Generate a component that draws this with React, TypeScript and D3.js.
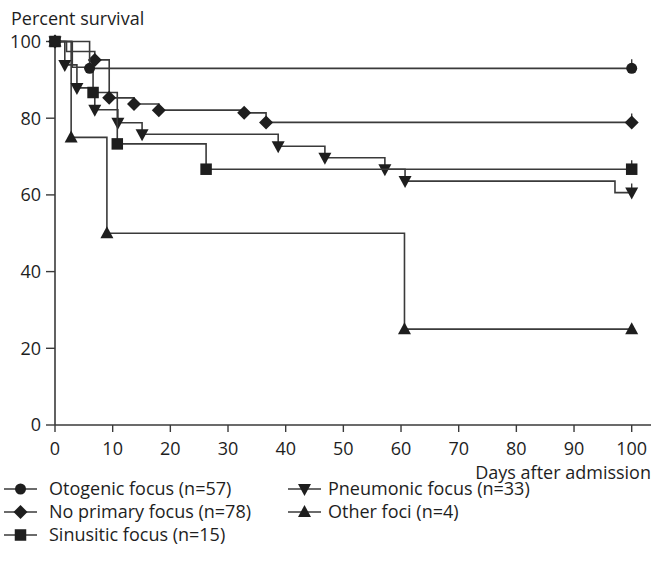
import React from "react";
import * as d3 from "d3";

// ---- data ----
const xTicks = [0, 10, 20, 30, 40, 50, 60, 70, 80, 90, 100];
const yTicks = [0, 20, 40, 60, 80, 100];

const otoTime = [0, 6, 100];
const otoSurv = [100, 93, 93];
const otoMark = [1, 1, 1];

const noneTime = [0, 2, 6.9, 9.4, 13.7, 18, 32.8, 36.6, 100];
const noneSurv = [100, 97.4, 95.2, 85.3, 83.7, 82.1, 81.4, 78.9, 78.9];
const noneMark = [1, 0, 1, 1, 1, 1, 1, 1, 1];

const sinTime = [0, 3, 6.6, 10.8, 26.2, 100];
const sinSurv = [100, 93.3, 86.7, 73.3, 66.7, 66.7];
const sinMark = [1, 0, 1, 1, 1, 1];

const pneTime = [0, 1.7, 3.8, 6.9, 10.9, 15.1, 38.7, 46.8, 57.2, 60.7, 97.1, 100];
const pneSurv = [100, 93.9, 87.9, 82.2, 78.8, 75.8, 72.7, 69.7, 66.7, 63.6, 60.6, 60.6];
const pneMark = [1, 1, 1, 1, 1, 1, 1, 1, 1, 1, 0, 1];

const othTime = [0, 2.8, 9, 60.6, 100];
const othSurv = [100, 75, 50, 25, 25];
const othMark = [1, 1, 1, 1, 1];

const seriesNames = [
  "Otogenic focus (n=57)",
  "No primary focus (n=78)",
  "Sinusitic focus (n=15)",
  "Pneumonic focus (n=33)",
  "Other foci (n=4)",
];
const seriesShapes = ["circle", "diamond", "square", "down", "up"];

const W = 653;
const H = 562;
const FONT = "'Open Sans', sans-serif";
const FS = 18;
const INK = "#1e1e1e";
const LINE = "#3a3a3a";

function Marker({ shape, x, y }: { shape: string; x: number; y: number }) {
  if (shape === "circle") return <circle cx={x} cy={y} r={5.5} fill={INK} />;
  if (shape === "square") return <rect x={x - 5.75} y={y - 5.75} width={11.5} height={11.5} fill={INK} />;
  if (shape === "diamond")
    return <polygon points={`${x},${y - 7} ${x + 7},${y} ${x},${y + 7} ${x - 7},${y}`} fill={INK} />;
  if (shape === "down")
    return <polygon points={`${x - 6.5},${y - 5} ${x + 6.5},${y - 5} ${x},${y + 7}`} fill={INK} />;
  return <polygon points={`${x - 6.5},${y + 5} ${x + 6.5},${y + 5} ${x},${y - 7}`} fill={INK} />;
}

export default function App() {
  const x = d3.scaleLinear().domain([0, 100]).range([55, 631.7]);
  const y = d3.scaleLinear().domain([0, 100]).range([425, 41.5]);

  const series = [
    { t: otoTime, s: otoSurv, m: otoMark },
    { t: noneTime, s: noneSurv, m: noneMark },
    { t: sinTime, s: sinSurv, m: sinMark },
    { t: pneTime, s: pneSurv, m: pneMark },
    { t: othTime, s: othSurv, m: othMark },
  ];

  const line = d3
    .line<[number, number]>()
    .x((d) => x(d[0]))
    .y((d) => y(d[1]))
    .curve(d3.curveStepAfter);

  const drawOrder = [4, 3, 2, 1, 0];

  const legendPos = [
    { lx: 4, ly: 489, tx: 49 },
    { lx: 4, ly: 512, tx: 49 },
    { lx: 4, ly: 535, tx: 49 },
    { lx: 288, ly: 489, tx: 328 },
    { lx: 288, ly: 512, tx: 328 },
  ];

  return (
    <svg
      width={W}
      height={H}
      style={{ position: "absolute", left: 0, top: 0, background: "#fff" }}
      fontFamily={FONT}
    >
      <text x={11} y={25} fontSize={FS} fill={INK}>
        Percent survival
      </text>

      {/* axes */}
      <line x1={55} x2={55} y1={41.5} y2={425} stroke={LINE} strokeWidth={1.6} />
      <line x1={55} x2={651} y1={425} y2={425} stroke={LINE} strokeWidth={1.6} />
      {yTicks.map((v) => (
        <g key={"y" + v}>
          <line x1={46} x2={55} y1={y(v)} y2={y(v)} stroke={LINE} strokeWidth={1.4} />
          <text x={41} y={y(v)} dy="0.35em" textAnchor="end" fontSize={FS} fill={INK}>
            {v}
          </text>
        </g>
      ))}
      {xTicks.map((v) => (
        <g key={"x" + v}>
          <line x1={x(v)} x2={x(v)} y1={425} y2={432} stroke={LINE} strokeWidth={1.4} />
          <text x={x(v)} y={448.5} dy="0.35em" textAnchor="middle" fontSize={FS} fill={INK}>
            {v}
          </text>
        </g>
      ))}
      <text x={651} y={479} textAnchor="end" fontSize={FS} fill={INK}>
        Days after admission
      </text>

      {/* curves */}
      {drawOrder.map((i) => {
        const sr = series[i];
        const pts: [number, number][] = sr.t.map((t, k) => [t, sr.s[k]]);
        const last = pts[pts.length - 1];
        return (
          <g key={"s" + i}>
            <path d={line(pts) || ""} fill="none" stroke={LINE} strokeWidth={1.6} />
            {i !== 4 && (
              <line
                x1={x(last[0])}
                x2={x(last[0])}
                y1={y(last[1])}
                y2={y(last[1]) - 9}
                stroke={LINE}
                strokeWidth={1.4}
              />
            )}
            {pts.map((p, k) =>
              sr.m[k] ? <Marker key={k} shape={seriesShapes[i]} x={x(p[0])} y={y(p[1])} /> : null
            )}
          </g>
        );
      })}

      {/* legend */}
      {seriesNames.map((name, i) => {
        const { lx, ly, tx } = legendPos[i];
        return (
          <g key={"l" + i}>
            <line x1={lx} x2={lx + 33} y1={ly} y2={ly} stroke={LINE} strokeWidth={1.6} />
            <Marker shape={seriesShapes[i]} x={lx + 16.5} y={ly} />
            <text x={tx} y={ly} dy="0.35em" fontSize={FS} fill={INK}>
              {name}
            </text>
          </g>
        );
      })}
    </svg>
  );
}
